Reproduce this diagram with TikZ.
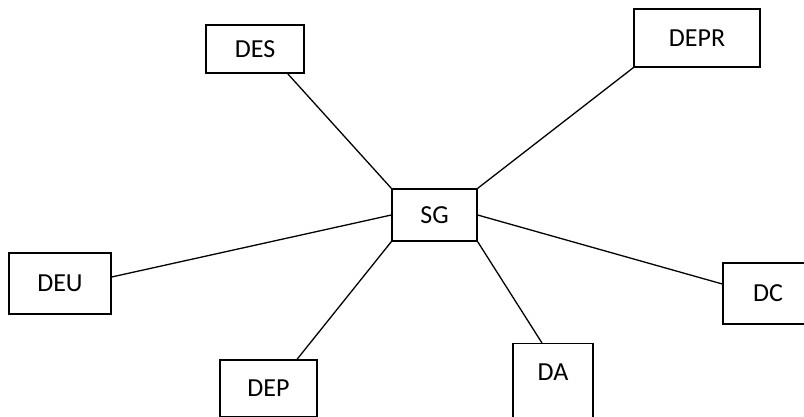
\documentclass[tikz,border=0pt]{standalone}
\usepackage{fontspec}
\setmainfont{Carlito}
\begin{document}
\begin{tikzpicture}[x=1pt,y=-1pt,
  box/.style={draw,line width=1.3pt,inner sep=0pt,font=\fontsize{26}{30}\selectfont},
  link/.style={line width=1.3pt}]
\useasboundingbox (0,0) rectangle (804,416);
\clip (0,0) rectangle (804,416);
\node[box,minimum width=85pt,minimum height=52pt] (sg) at (434.5,215) {SG};
\node[box,minimum width=98pt,minimum height=48pt] (des) at (255,49) {DES};
\node[box,minimum width=126pt,minimum height=58pt] (depr) at (697,38) {DEPR};
\node[box,minimum width=102pt,minimum height=61pt] (deu) at (60,283.5) {DEU};
\node[box,minimum width=90pt,minimum height=61pt] (dc) at (768,293.5) {DC};
\node[box,minimum width=97pt,minimum height=57pt] (dep) at (268.5,388.5) {DEP};
\node[box,minimum width=80pt,anchor=north,text height=17pt,text depth=40pt,inner ysep=20pt] (da) at (553,343) {DA};
\draw[link] ([xshift=-17pt]des.south east) -- (sg.north west);
\draw[link] (depr.south west) -- (sg.north east);
\draw[link] ([yshift=6.5pt]deu.east) -- (sg.west);
\draw[link] (sg.east) -- ([yshift=9.5pt]dc.west);
\draw[link] ([xshift=28.5pt]dep.north) -- (sg.south west);
\draw[link] ([xshift=-11pt]da.north) -- (sg.south east);
\end{tikzpicture}
\end{document}
